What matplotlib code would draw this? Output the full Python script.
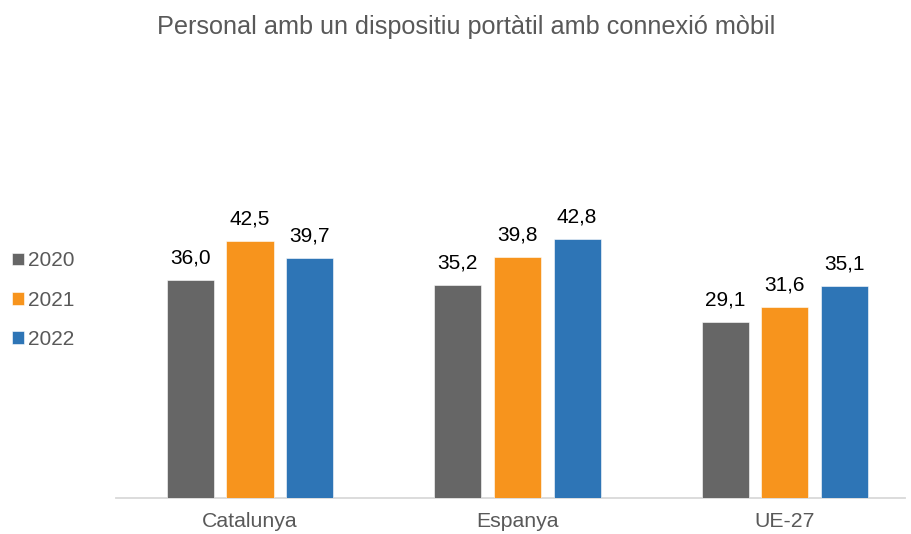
import matplotlib as mpl
mpl.use('Agg')
import matplotlib.pyplot as plt
import numpy as np

# dades
categories = ['Catalunya', 'Espanya', 'UE-27']
years = ['2020', '2021', '2022']
v2020 = [36.0, 35.2, 29.1]
v2021 = [42.5, 39.8, 31.6]
v2022 = [39.7, 42.8, 35.1]
colors = ['#666666', '#F7941D', '#2E75B6']

plt.rcParams['font.family'] = ['Liberation Sans', 'DejaVu Sans']

fig = plt.figure(figsize=(9.12, 5.34), dpi=100)
ax = fig.add_axes([116/912, 36/534, 789/912, 423.5/534])

x = np.arange(len(categories))
w = 0.176
step = 0.223
series = [v2020, v2021, v2022]
handles = []
for i, vals in enumerate(series):
    b = ax.bar(x + (i - 1) * step, vals, width=w, color=colors[i],
               edgecolor='white', linewidth=0.4, label=years[i], zorder=3)
    labels = [('%.1f' % v).replace('.', ',') for v in vals]
    ax.bar_label(b, labels=labels, padding=9, fontsize=15, color='black')
    handles.append(b)

ax.set_xlim(-0.501, 2.449)
ax.set_ylim(0, 70)
ax.set_xticks(x)
ax.set_xticklabels(categories, fontsize=15.3, color='#595959')
ax.tick_params(axis='x', length=0, pad=10)
ax.set_yticks([])
for s in ['top', 'right', 'left']:
    ax.spines[s].set_visible(False)
ax.spines['bottom'].set_color('#D9D9D9')
ax.spines['bottom'].set_linewidth(1.3)

fig.text(466/912, 1 - 27/534, 'Personal amb un dispositiu portàtil amb connexió mòbil',
         ha='center', va='center', fontsize=18.2, color='#595959')

leg = fig.legend(handles=handles, labels=years, loc='upper left',
                 bbox_to_anchor=(6/912, 1 - 245/534), frameon=False, fontsize=15,
                 handlelength=0.55, handleheight=0.55, handletextpad=0.2,
                 labelspacing=0.98, borderaxespad=0, borderpad=0.3)
for t in leg.get_texts():
    t.set_color('#595959')

plt.savefig('out.png', dpi=100)
